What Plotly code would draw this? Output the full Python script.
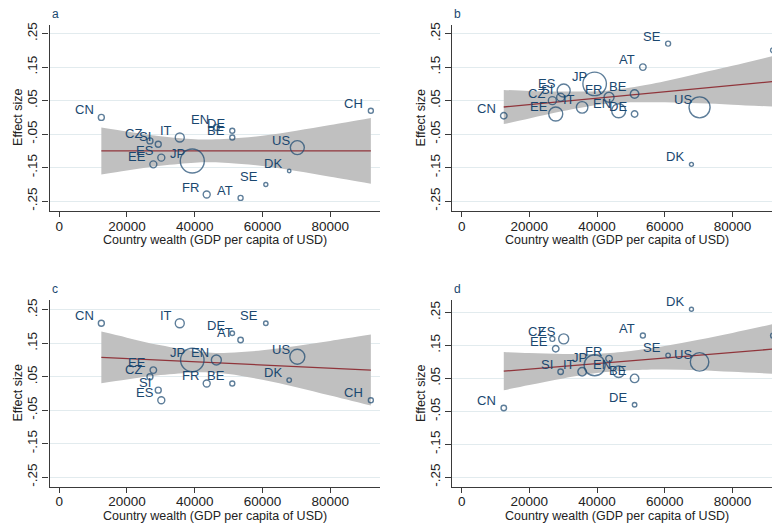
import plotly.graph_objects as go

# Country codes and GDP per capita (USD), shared by all four panels
countries = ["CN", "CZ", "SI", "EE", "ES", "IT", "JP", "FR", "EN", "DE", "BE", "AT", "SE", "DK", "US", "CH"]
gdp = [12450, 26800, 29250, 27800, 30150, 35600, 39300, 43550, 46400, 51100, 51100, 53550, 61000, 67900, 70300, 92000]

# Effect sizes per panel
effect_a = [0.00, -0.07, -0.08, -0.14, -0.12, -0.06, -0.13, -0.23, -0.03, -0.04, -0.06, -0.24, -0.20, -0.16, -0.09, 0.02]
effect_b = [0.005, 0.05, 0.06, 0.01, 0.08, 0.03, 0.10, 0.06, 0.02, 0.01, 0.07, 0.15, 0.22, -0.14, 0.03, 0.20]
effect_c = [0.21, 0.05, 0.01, 0.07, -0.02, 0.21, 0.10, 0.03, 0.10, 0.18, 0.03, 0.16, 0.21, 0.04, 0.11, -0.02]
effect_d = [-0.04, 0.17, 0.07, 0.14, 0.17, 0.07, 0.09, 0.11, 0.07, -0.03, 0.05, 0.18, 0.12, 0.26, 0.10, 0.18]

# Analytic weights shown as marker diameters (px)
weight_a = [6, 6, 6, 7, 7, 9, 24, 7, 6, 5, 5, 5, 4, 3.5, 14, 5]
weight_b = [6.5, 8, 8, 14, 13, 11.5, 23.5, 10, 14, 6.5, 8.5, 6.5, 5, 4, 21, 5]
weight_c = [6, 6, 6, 6.5, 7, 9, 23.5, 7, 10, 4.5, 5, 5.5, 4.5, 4.5, 15, 5]
weight_d = [5.5, 5, 5.5, 6.5, 10, 8.5, 21, 6.5, 11.5, 4.5, 8.5, 5, 4.5, 4, 18.5, 5]

# Weighted linear fit and its 95% confidence band
fit_x = [12450, 92000]
fit_a = [-0.100, -0.100]
fit_b = [0.031, 0.107]
fit_c = [0.108, 0.070]
fit_d = [0.072, 0.139]

band_x = [12450, 20000, 30000, 40000, 45000, 50000, 60000, 70000, 80000, 92000]
upper_a = [-0.030, -0.042, -0.056, -0.065, -0.066, -0.064, -0.055, -0.040, -0.023, -0.002]
lower_a = [-0.170, -0.158, -0.144, -0.135, -0.134, -0.136, -0.145, -0.160, -0.177, -0.198]
upper_b = [0.082, 0.079, 0.077, 0.078, 0.082, 0.089, 0.108, 0.131, 0.154, 0.183]
lower_b = [-0.020, -0.003, 0.019, 0.037, 0.042, 0.045, 0.045, 0.042, 0.038, 0.032]
upper_c = [0.185, 0.167, 0.144, 0.127, 0.122, 0.122, 0.129, 0.142, 0.157, 0.176]
lower_c = [0.031, 0.042, 0.055, 0.063, 0.062, 0.058, 0.041, 0.019, -0.006, -0.036]
upper_d = [0.130, 0.127, 0.124, 0.125, 0.128, 0.133, 0.148, 0.167, 0.188, 0.215]
lower_d = [0.014, 0.030, 0.050, 0.066, 0.072, 0.075, 0.077, 0.075, 0.070, 0.064]

y_ticks = [0.25, 0.15, 0.05, -0.05, -0.15, -0.25]
y_tick_text = [".25", ".15", ".05", "-.05", "-.15", "-.25"]
x_ticks = [0, 20000, 40000, 60000, 80000]
x_tick_text = ["0", "20000", "40000", "60000", "80000"]
x_title = "Country wealth (GDP per capita of USD)"
y_title = "Effect size"

NAVY = "#1a476f"
MAROON = "#90353b"
BAND = "#c0c0c0"
GRID = "#e2ebee"
AXIS = "#3a3a3a"
TEXT = "#222222"
FONT = "Liberation Sans, Arial, sans-serif"

W, H = 772, 526
PLOT_W = 330.5  # full width of each plot region; the right column runs off the page edge

panels = [
    dict(letter="a", eff=effect_a, wt=weight_a, fit=fit_a, up=upper_a, lo=lower_a,
         xdom=(49.5, 380), ydom=(22.7, 210), xr=(-2850, 94700), yr=(-0.2797, 0.2767)),
    dict(letter="b", eff=effect_b, wt=weight_b, fit=fit_b, up=upper_b, lo=lower_b,
         xdom=(452, 772), ydom=(22.7, 210), xr=(-2850, 91700), yr=(-0.2797, 0.2767)),
    dict(letter="c", eff=effect_c, wt=weight_c, fit=fit_c, up=upper_c, lo=lower_c,
         xdom=(49.5, 380), ydom=(299.3, 486.7), xr=(-2850, 94700), yr=(-0.279, 0.279)),
    dict(letter="d", eff=effect_d, wt=weight_d, fit=fit_d, up=upper_d, lo=lower_d,
         xdom=(452, 772), ydom=(299.3, 486.7), xr=(-2850, 91700), yr=(-0.2793, 0.2875)),
]

fig = go.Figure()
annotations = []

for i, p in enumerate(panels, start=1):
    xa = "x" if i == 1 else f"x{i}"
    ya = "y" if i == 1 else f"y{i}"

    # confidence band
    fig.add_trace(go.Scatter(x=band_x, y=p["lo"], mode="lines", line=dict(width=0, shape="spline"),
                             hoverinfo="skip", showlegend=False, xaxis=xa, yaxis=ya))
    fig.add_trace(go.Scatter(x=band_x, y=p["up"], mode="lines", line=dict(width=0, shape="spline"),
                             fill="tonexty", fillcolor=BAND, hoverinfo="skip", showlegend=False,
                             xaxis=xa, yaxis=ya))
    # fitted line
    fig.add_trace(go.Scatter(x=fit_x, y=p["fit"], mode="lines", line=dict(color=MAROON, width=1.3),
                             showlegend=False, xaxis=xa, yaxis=ya))
    # country markers
    fig.add_trace(go.Scatter(x=gdp, y=p["eff"], mode="markers",
                             marker=dict(symbol="circle-open", size=p["wt"], color=NAVY,
                                         line=dict(width=1.4, color=NAVY)),
                             text=countries, showlegend=False, xaxis=xa, yaxis=ya))

    # country labels, placed up-left of each marker
    for c, gx, ey in zip(countries, gdp, p["eff"]):
        annotations.append(dict(x=gx, y=ey, xref=xa, yref=ya, text=c, showarrow=False,
                                xanchor="right", yanchor="middle", xshift=-5.5, yshift=7.5,
                                font=dict(family=FONT, size=13, color=NAVY)))

    x0, x1 = p["xdom"]
    t0, t1 = p["ydom"]
    xkey = "xaxis" if i == 1 else f"xaxis{i}"
    ykey = "yaxis" if i == 1 else f"yaxis{i}"
    fig.layout[xkey] = dict(
        domain=[x0 / W, x1 / W], range=list(p["xr"]), anchor=ya,
        tickvals=x_ticks, ticktext=x_tick_text, showgrid=False, zeroline=False,
        showline=True, linecolor=AXIS, linewidth=1.2, ticks="outside", ticklen=5,
        tickcolor=AXIS, tickwidth=1.2, ticklabelstandoff=-3,
        tickfont=dict(family=FONT, size=13.5, color=TEXT),
    )
    fig.layout[ykey] = dict(
        domain=[1 - t1 / H, 1 - t0 / H], range=list(p["yr"]), anchor=xa,
        tickvals=y_ticks, ticktext=y_tick_text, tickangle=-90,
        showgrid=True, gridcolor=GRID, gridwidth=1.2, zeroline=False,
        showline=True, linecolor=AXIS, linewidth=1.2, ticks="outside", ticklen=6,
        tickcolor=AXIS, tickwidth=1.2,
        tickfont=dict(family=FONT, size=13.5, color=TEXT),
    )

    # axis titles
    annotations.append(dict(x=(x0 + PLOT_W / 2) / W, y=1 - (t1 + 29) / H,
                            xref="paper", yref="paper",
                            text=x_title, showarrow=False, xanchor="center", yanchor="middle",
                            font=dict(family=FONT, size=12.5, color=TEXT)))
    annotations.append(dict(x=(x0 - 31.5) / W, y=1 - (t0 + t1) / 2 / H, xref="paper", yref="paper",
                            text=y_title, showarrow=False, textangle=-90,
                            xanchor="center", yanchor="middle",
                            font=dict(family=FONT, size=12.5, color=TEXT)))

    # panel letter
    annotations.append(dict(x=(x0 + 5.5) / W, y=1 - (t0 - 11) / H, xref="paper", yref="paper",
                            text=p["letter"], showarrow=False, xanchor="center", yanchor="middle",
                            font=dict(family=FONT, size=12, color=NAVY)))

fig.update_layout(
    width=W, height=H, margin=dict(l=0, r=0, t=0, b=0),
    paper_bgcolor="white", plot_bgcolor="white",
    annotations=annotations, showlegend=False,
)

fig.write_html("out.html")
